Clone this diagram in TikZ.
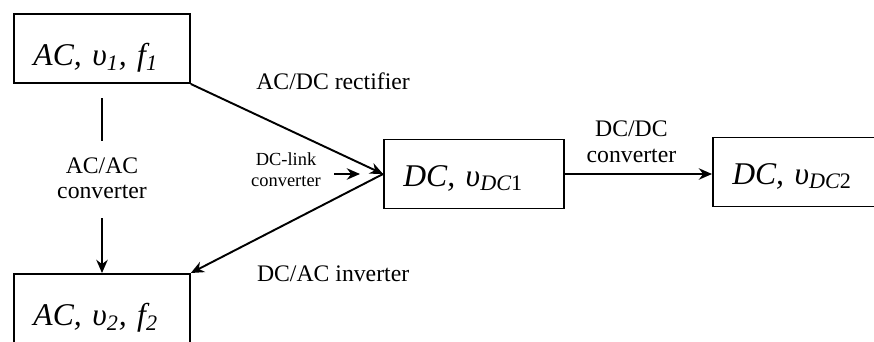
\documentclass[tikz,border=0pt]{standalone}
\usepackage{fontspec}
\setmainfont{Liberation Serif}
\usetikzlibrary{arrows.meta}

\newcommand{\boxfont}{\fontsize{18}{20}\selectfont\itshape}
\tikzset{
  box/.style={draw, inner ysep=0pt, inner xsep=11pt, align=left, font=\boxfont},
  acbox/.style={box, text width=78pt, text height=29.3pt, text depth=10pt},
  dcbox/.style={box, text width=#1, text height=26.5pt, text depth=12.8pt},
  convtext/.style={inner sep=0pt, align=center, font=\fontsize{13.5}{14.5}\selectfont},
  smalltext/.style={inner sep=0pt, align=center, font=\fontsize{10.5}{12}\selectfont}
}

\begin{document}
\begin{tikzpicture}
  [x=0.02cm, y=-0.02cm, line width=1.1pt, >={Stealth[length=7.5pt, width=6.5pt]}]
  \useasboundingbox (0,0) rectangle (874,341);
  \clip (0,0) rectangle (874,341);
  % sources and loads
  \node (ac1) [acbox] at (102,48.5) {AC, υ\textsubscript{1}, f\textsubscript{1}};
  \node (ac2) [acbox] at (102,308.5) {AC, υ\textsubscript{2}, f\textsubscript{2}};
  \node (dc1) [dcbox=80.4pt] at (474,174) {DC, υ\textsubscript{DC\upshape 1}};
  \node (dc2) [dcbox=130pt, anchor=west] at (712,172) {DC, υ\textsubscript{DC\upshape 2}};
  % converters
  \draw [->] (ac1.south east) to node [convtext, pos=0.74, above=34pt] {AC/DC rectifier} (dc1.west);
  \draw [->] (dc1.west) to node [convtext, pos=0.26, below=37pt] {DC/AC inverter} (ac2.north east);
  \draw [->] (dc1.east) to node [convtext, above=6pt, xshift=-4pt] {DC/DC\\converter} (dc1.east -| dc2.west);
  \node (acac) [convtext] at (102,178) {AC/AC\\converter};
  \draw [shorten <=8pt, shorten >=8.5pt] (ac1) -- (acac);
  \draw [->, shorten <=10.5pt] (acac) -- (ac2);
  \node (link) [smalltext] at (286,170) {DC-link\\converter};
  \coordinate (linktip) at (360,174);
  \draw [->, shorten <=7pt] (link.east |- linktip) -- (linktip);
\end{tikzpicture}
\end{document}
